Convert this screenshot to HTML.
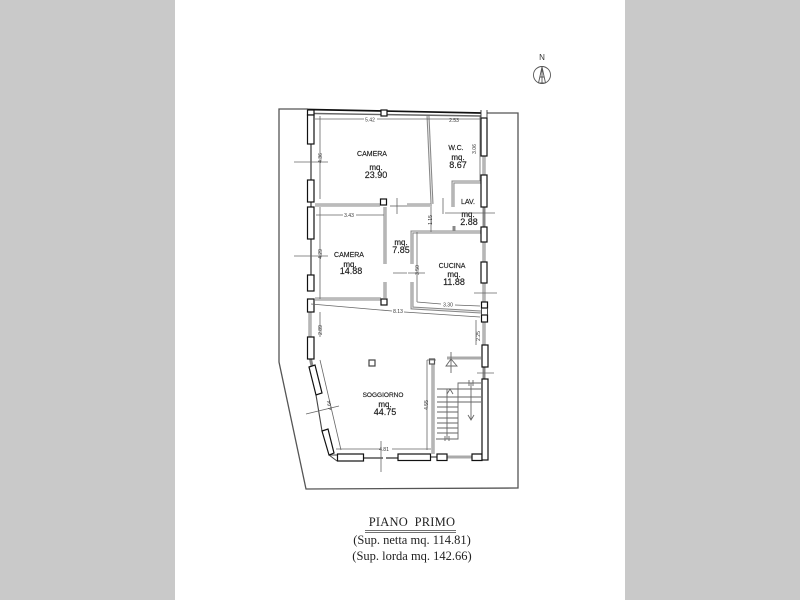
<!DOCTYPE html>
<html><head><meta charset="utf-8"><style>
html,body{margin:0;padding:0;background:#fff}
svg{display:block;filter:blur(.3px)}
text{font-family:"Liberation Sans",sans-serif;fill:#333}
.s{font-family:"Liberation Serif",serif;fill:#222;font-size:12.5px;stroke:none}
.r{fill:#fff;stroke:#111;stroke-width:1.2}
.w{fill:none;stroke:#888;stroke-width:3}
.wi{fill:none;stroke:#eee;stroke-width:.9}
.d{fill:none;stroke:#666;stroke-width:.8}
.t{font-size:8px;text-anchor:middle;fill:#1a1a1a;stroke:#1a1a1a;stroke-width:.15}
.c{font-size:7px}
.n{font-size:9px}
.m{font-size:5px;text-anchor:middle;fill:#333}
</style></head><body>
<svg width="800" height="600" viewBox="0 0 800 600" xmlns="http://www.w3.org/2000/svg">
<rect width="800" height="600" fill="#fff"/>
<rect x="0" y="0" width="175" height="600" fill="#c9c9c9"/>
<rect x="625" y="0" width="175" height="600" fill="#c9c9c9"/>

<!-- lot outline -->
<polyline points="308,109 279,109 279,362 306,489 518,488 518,113 487,113" fill="none" stroke="#555" stroke-width="1.3"/>

<!-- top wall -->
<path d="M308,109.500L481,113" stroke="#111" stroke-width="1.7" fill="none"/>
<path d="M314,113.500L481,116" stroke="#666" stroke-width="1.4" fill="none"/>
<rect x="381" y="110" width="6" height="6" class="r" stroke="#555"/>

<!-- interior walls -->
<g class="w">
<path d="M428,116L432,204"/>
<path d="M407,205L432,205"/>
<path d="M453,207V182H481"/>
<path d="M454,226V231"/>
<path d="M481,232H412V264"/>
<path d="M412,282V308L481,312"/>
<path d="M315,205H380"/>
<path d="M315,299H381"/>
<path d="M385,207V264"/>
<path d="M385,282V298"/>
<path d="M433,359V454"/>
<path d="M447,358H481" stroke="#aaa"/>
<path d="M447,457H472" stroke="#aaa"/>
<path d="M484,156V175"/>
<path d="M484,207V227"/>
<path d="M484,242V262"/>
<path d="M484,283V302"/>
<path d="M484,322V345"/>
<path d="M484,367V379"/>
<path d="M310,312V337"/>
<path d="M310.500,359L312,366"/>
</g>
<g class="wi">
<path d="M428,116L432,204"/>
<path d="M407,205L432,205"/>
<path d="M453,207V182H481"/>
<path d="M481,232H412V264"/>
<path d="M412,282V308L481,312"/>
<path d="M315,205H380"/>
<path d="M315,299H381"/>
<path d="M385,207V264"/>
<path d="M385,282V298"/>
<path d="M433,359V454"/>
<path d="M484,156V175"/>
<path d="M484,242V262"/>
<path d="M484,283V302"/>
<path d="M484,322V345"/>
<path d="M310,312V337"/>
</g>
<path d="M311,144V180M311,239V275M311,202V207" stroke="#222" stroke-width="1.1" fill="none"/>
<path d="M363,458H383M386,458H398" stroke="#333" stroke-width="1.3" fill="none"/>
<path d="M316,395L322,431" stroke="#444" stroke-width="1.1" fill="none"/>
<path d="M329,455L337,455M329,455L337,461" stroke="#444" stroke-width="1" fill="none"/>
<path d="M431,457H437" stroke="#444" stroke-width="1.2" fill="none"/>

<!-- wall pieces / windows -->
<g class="r">
<rect x="307.500" y="110" width="6.500" height="5"/>
<rect x="307.500" y="115" width="6.500" height="29"/>
<rect x="307.500" y="180" width="6.500" height="22"/>
<rect x="307.500" y="207" width="6.500" height="32"/>
<rect x="307.500" y="275" width="6.500" height="16"/>
<rect x="307.500" y="299" width="6.500" height="13"/>
<rect x="307.500" y="337" width="6.500" height="22"/>
<polygon points="309,367 315,365 322,393 316,395"/>
<polygon points="322,431 328,429 334,453 329,455"/>
<rect x="337.500" y="454" width="26" height="7"/>
<rect x="398" y="454" width="32.500" height="6.500"/>
<rect x="437" y="454" width="10" height="6.500"/>
<path d="M472,454H482V460.500H472Z"/>
<rect x="481" y="118" width="6" height="38"/>
<rect x="481" y="175" width="6" height="32"/>
<rect x="481" y="227" width="6" height="15"/>
<rect x="481" y="262" width="6" height="21"/>
<rect x="481.500" y="302" width="6" height="6"/>
<rect x="481.500" y="315" width="6" height="7"/>
<rect x="482" y="345" width="6" height="22"/>
<rect x="482" y="379" width="6" height="81"/>
<rect x="380.500" y="199" width="6" height="6"/>
<rect x="381" y="299" width="6" height="6"/>
<rect x="429.500" y="359" width="5" height="5" stroke="#555"/>
<rect x="369" y="360" width="6" height="6" stroke="#444"/>
</g>
<path d="M481,110V118M487,110V118" stroke="#333" stroke-width=".9" fill="none"/>
<path d="M481.500,308V315M487.500,308V315" stroke="#333" stroke-width=".9" fill="none"/>
<path d="M390,206H407" stroke="#555" stroke-width=".8"/>

<!-- dimension lines -->
<g class="d">
<path d="M315,119H364M377,119H480M480,116V181"/>
<path d="M320,116V199M320,207V299M320,312V337"/>
<path d="M316,215H343M356,215H384"/>
<path d="M311,304L392,311M404,312L480,317"/>
<path d="M417,302L441,304M455,305L480,306M417,232V302"/>
<path d="M431,207V232"/>
<path d="M476,320V345"/>
<path d="M320,360L341,450"/>
<path d="M427,360V450M427,360H436"/>
<path d="M336,449H380M392,449H431"/>
</g>
<!-- axis ticks -->
<g stroke="#666" stroke-width=".8" fill="none">
<path d="M294,162H328"/>
<path d="M294,256H328"/>
<path d="M397,198V214"/>
<path d="M443,198V214"/>
<path d="M393,273H407M408,273H425"/>
<path d="M445,213H495"/>
<path d="M474,293H497"/>
<path d="M477,373H494"/>
<path d="M306,414L339,406"/>
<path d="M381,441V472"/>
</g>

<!-- stairs -->
<g fill="none" stroke="#666" stroke-width=".9">
<path d="M481,383H458V439H436"/>
<path d="M437,389H481M437,397H458M437,402H481M437,407H458M437,412H458M437,418H458M437,423H458M437,428H458M437,433H458M458,397H481"/>
<path d="M447,389V439M471,383V420"/>
<path d="M447,394L450,389L453,394M468,415L471,420L474,415"/>
<path d="M445,436V441M449,436V441M469,380V386M473,380V386"/>
<path d="M451,352V373M446,366L451,359L457,366Z"/>
</g>

<!-- dimension labels -->
<text class="m" x="370" y="121.500">5.42</text>
<text class="m" x="454" y="122">2.53</text>
<text class="m" transform="translate(322,158) rotate(-90)">4.36</text>
<text class="m" transform="translate(476,149) rotate(-90)">3.06</text>
<text class="m" x="349" y="217">3.43</text>
<text class="m" transform="translate(322,254) rotate(-90)">4.29</text>
<text class="m" transform="translate(322,330) rotate(-90)">2.89</text>
<text class="m" transform="translate(432,220) rotate(-90)">1.15</text>
<text class="m" transform="translate(419,270) rotate(-90)">3.50</text>
<text class="m" x="448" y="306.500">3.30</text>
<text class="m" x="398" y="313">8.13</text>
<text class="m" transform="translate(480,336) rotate(-90)">2.25</text>
<text class="m" transform="translate(331,405) rotate(-100)">4.64</text>
<text class="m" transform="translate(428,405) rotate(-90)">4.55</text>
<text class="m" x="384" y="451">4.81</text>

<!-- room labels -->
<text class="t c" x="372" y="156">CAMERA</text>
<text class="t" x="376" y="170">mq.</text>
<text class="t n" x="376" y="178">23.90</text>
<text class="t c" x="456" y="150">W.C.</text>
<text class="t" x="458" y="160">mq.</text>
<text class="t n" x="458" y="168">8.67</text>
<text class="t c" x="468" y="204">LAV.</text>
<text class="t" x="468" y="217">mq.</text>
<text class="t n" x="469" y="225">2.88</text>
<text class="t c" x="349" y="257">CAMERA</text>
<text class="t" x="350" y="267">mq.</text>
<text class="t n" x="351" y="274">14.88</text>
<text class="t" x="401" y="245">mq.</text>
<text class="t n" x="401" y="253">7.85</text>
<text class="t c" x="452" y="268">CUCINA</text>
<text class="t" x="454" y="277">mq.</text>
<text class="t n" x="454" y="285">11.88</text>
<text class="t c" x="383" y="397" style="font-size:6.500px">SOGGIORNO</text>
<text class="t" x="385" y="407">mq.</text>
<text class="t n" x="385" y="415">44.75</text>

<!-- north -->
<text x="542" y="60" style="font-size:8px;text-anchor:middle">N</text>
<g fill="none" stroke="#555" stroke-width=".9">
<circle cx="542" cy="75" r="8.500"/>
<path d="M542,66V84M538.500,83L542,67L545.500,83M538.500,83H545.500M539.500,77H544.500"/>
</g>

<!-- title -->
<text class="s" x="412" y="526" text-anchor="middle" style="letter-spacing:.2px">PIANO&#160;&#160;PRIMO</text>
<path d="M365,530.500H456M365,532.500H456" stroke="#444" stroke-width=".8"/>
<text class="s" x="412" y="544" text-anchor="middle">(Sup. netta mq. 114.81)</text>
<text class="s" x="412" y="560" text-anchor="middle">(Sup. lorda mq. 142.66)</text>
</svg>
</body></html>
